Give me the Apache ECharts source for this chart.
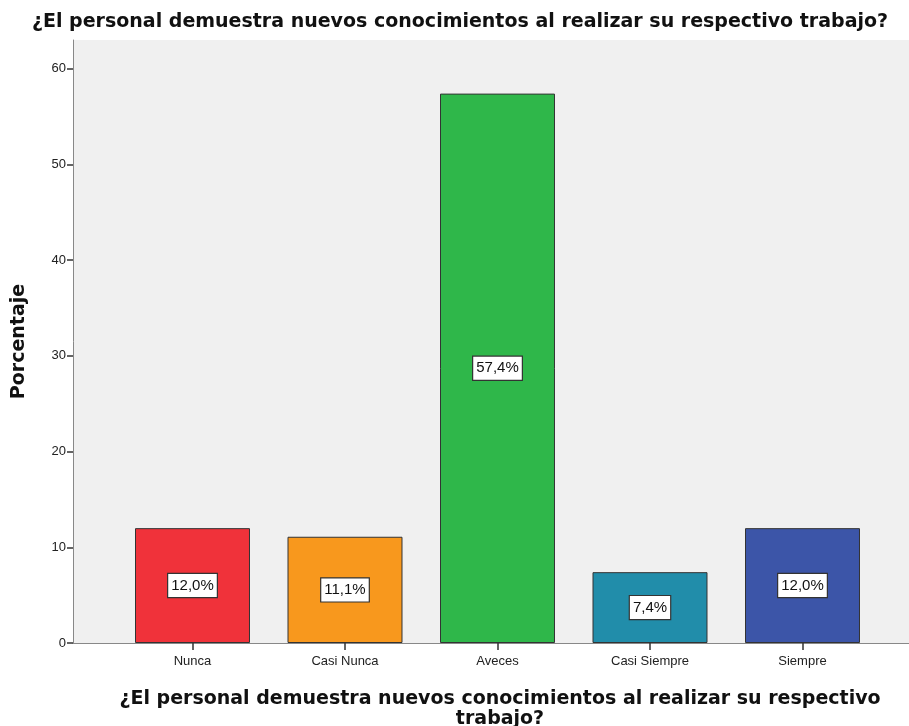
<!DOCTYPE html>
<html>
<head>
<meta charset="utf-8">
<script src="https://cdn.jsdelivr.net/npm/echarts@6/dist/echarts.min.js"></script>
<style>html,body{margin:0;padding:0;background:#fff}#c{width:909px;height:726px}</style>
</head>
<body>
<div id="c"></div>
<script>
const categories = ['Nunca', 'Casi Nunca', 'Aveces', 'Casi Siempre', 'Siempre'];
const values = [12.0, 11.1, 57.4, 7.4, 12.0];
const labels = ['12,0%', '11,1%', '57,4%', '7,4%', '12,0%'];
const yTicks = [0, 10, 20, 30, 40, 50, 60];
const colors = ['#F0323A', '#F8981D', '#2FB74A', '#218DAA', '#3C55A8'];
const titleText = '¿El personal demuestra nuevos conocimientos al realizar su respectivo trabajo?';
const xName = '¿El personal demuestra nuevos conocimientos al realizar su respectivo\ntrabajo?';
const yName = 'Porcentaje';

const chart = echarts.init(document.getElementById('c'));
const boldFont = '"DejaVu Sans", sans-serif';
const plainFont = '"Liberation Sans", Arial, sans-serif';
chart.setOption({
  animation: false,
  backgroundColor: '#fff',
  title: [
    { text: titleText, left: 455, textAlign: 'center', top: 8,
      textStyle: { fontFamily: boldFont, fontWeight: 'bold', fontSize: 19, color: '#111' } },
    { text: xName, left: 495, textAlign: 'center', top: 684,
      textStyle: { fontFamily: boldFont, fontWeight: 'bold', fontSize: 19, color: '#111', lineHeight: 20 } }
  ],
  grid: [
    { left: 73, right: 0, top: 40, bottom: 83, show: true, backgroundColor: '#F0F0F0', borderWidth: 0 },
    { left: 116.25, right: 30.25, top: 40, bottom: 83 }
  ],
  xAxis: [
    { gridIndex: 0, type: 'value', min: 0, max: 1,
      axisLine: { show: true, lineStyle: { color: '#888', width: 1 } },
      axisTick: { show: false }, axisLabel: { show: false }, splitLine: { show: false } },
    { gridIndex: 1, type: 'category', data: categories,
      axisLine: { show: false },
      axisTick: { show: true, alignWithLabel: true, length: 7, lineStyle: { color: '#333', width: 1.5 } },
      axisLabel: { color: '#222', fontSize: 13, fontFamily: plainFont, margin: 12 } }
  ],
  yAxis: [
    { gridIndex: 0, type: 'value', min: 0, max: 63, interval: 10,
      name: yName, nameLocation: 'middle', nameGap: 44, nameRotate: 90,
      nameTextStyle: { fontFamily: boldFont, fontWeight: 'bold', fontSize: 19, color: '#111' },
      axisLine: { show: true, lineStyle: { color: '#888', width: 1 } },
      axisTick: { show: true, length: 6, customValues: yTicks, lineStyle: { color: '#333', width: 1.5 } },
      axisLabel: { color: '#222', fontSize: 13, fontFamily: plainFont, margin: 7, customValues: yTicks },
      splitLine: { show: false } },
    { gridIndex: 1, type: 'value', min: 0, max: 63, show: false, splitLine: { show: false } }
  ],
  series: [{
    type: 'bar', xAxisIndex: 1, yAxisIndex: 1,
    barWidth: '75.4%',
    data: values.map((v, i) => ({ value: v, itemStyle: { color: colors[i] } })),
    itemStyle: { borderColor: '#333', borderWidth: 1 },
    label: { show: true, position: 'inside',
      formatter: p => labels[p.dataIndex],
      backgroundColor: '#fff', borderColor: '#333', borderWidth: 1.2,
      padding: [5, 3, 3, 3], color: '#111', fontSize: 15,
      fontFamily: plainFont }
  }]
});
</script>
</body>
</html>
